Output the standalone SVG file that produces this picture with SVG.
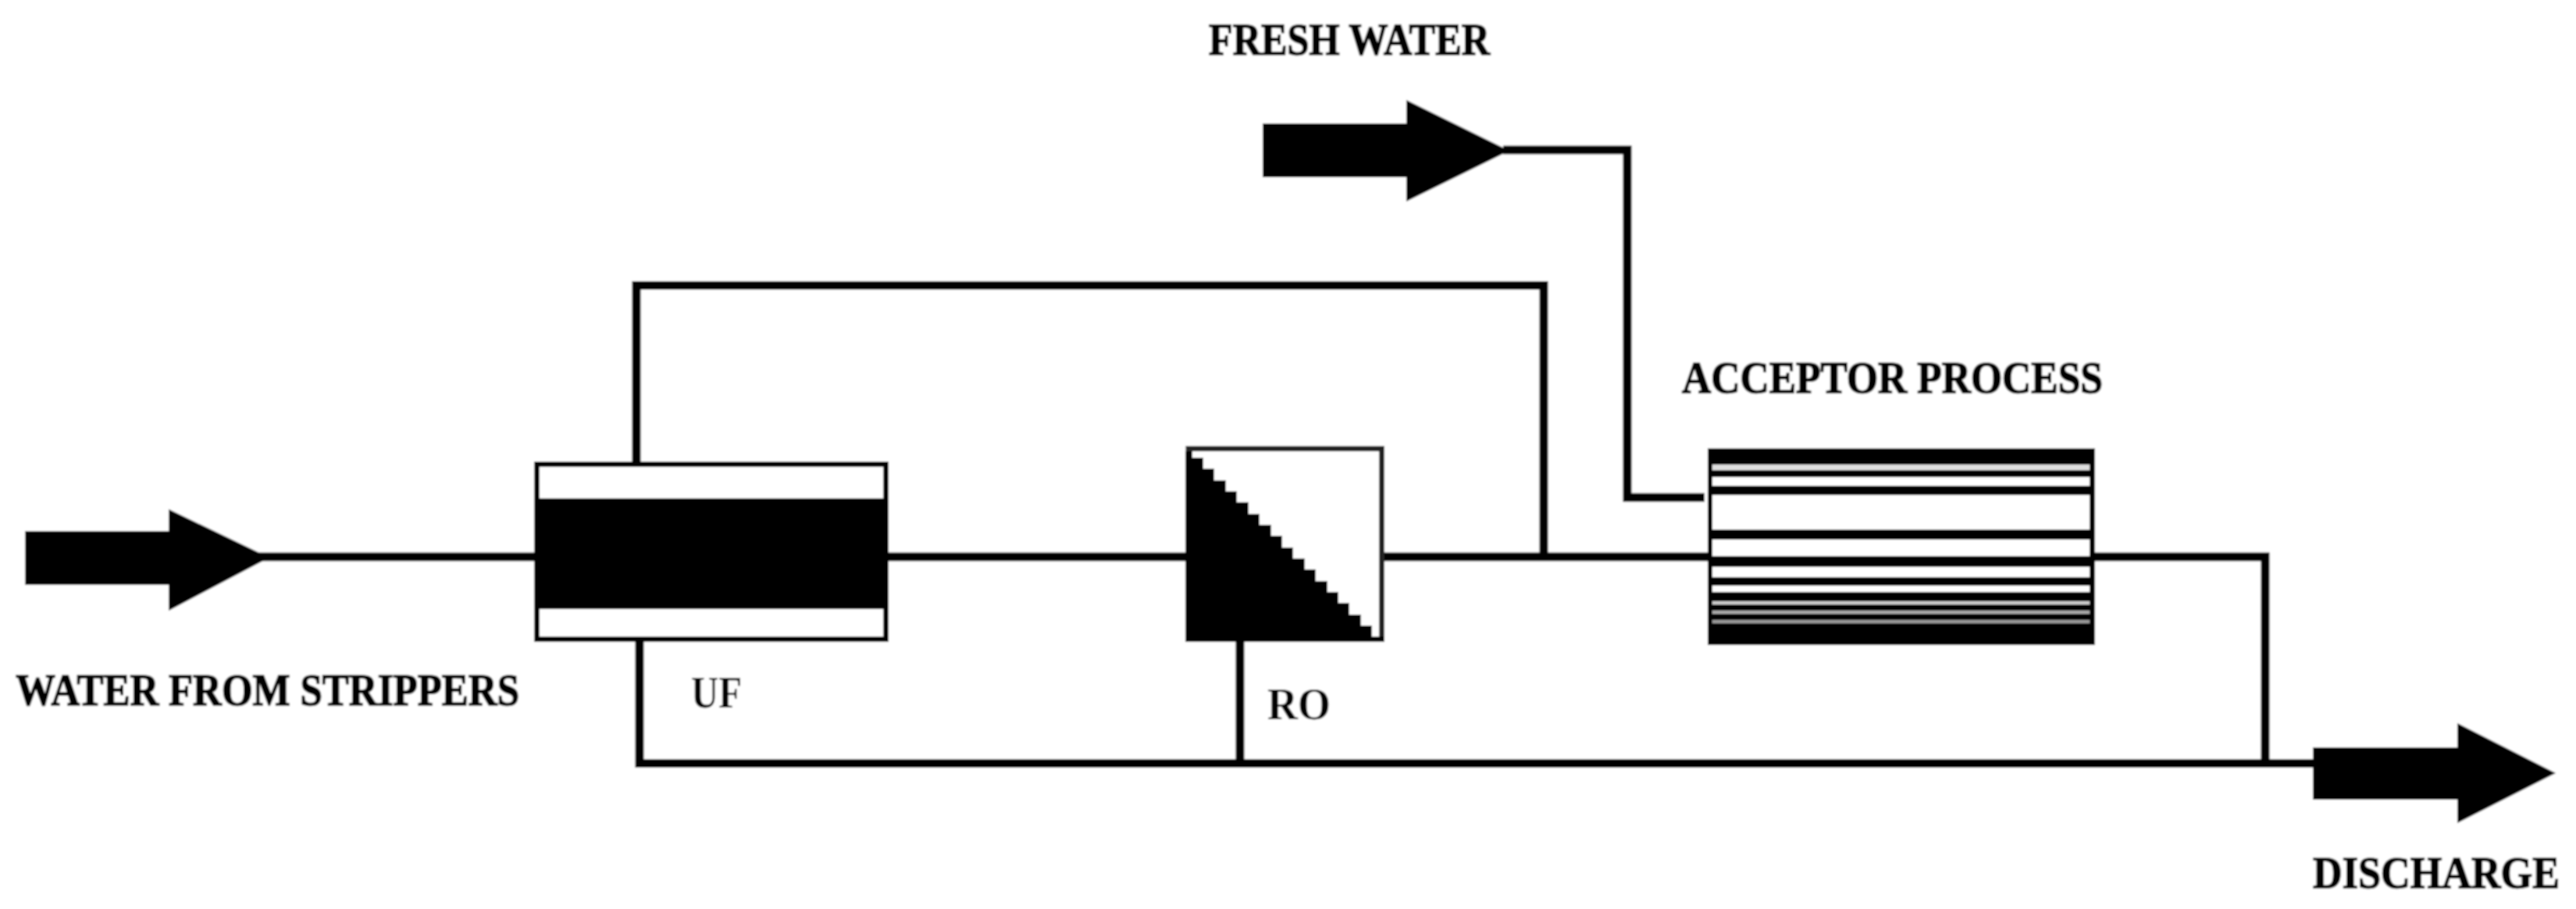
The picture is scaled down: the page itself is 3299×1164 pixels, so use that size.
<svg xmlns="http://www.w3.org/2000/svg" width="3299" height="1164" viewBox="0 0 3299 1164">
<style>
.lbl{font-family:"Liberation Serif","Times New Roman",serif;font-weight:bold;font-size:56px;fill:#000;stroke:#000;stroke-width:1.6px}
.line{fill:none;stroke:#000;stroke-width:11;stroke-linejoin:miter}
.arrow{fill:#000}
</style>
<defs><filter id="soft" x="0" y="0" width="100%" height="100%" filterUnits="objectBoundingBox"><feGaussianBlur stdDeviation="0.9"/></filter></defs>
<rect width="3299" height="1164" fill="#fff"/>
<g filter="url(#soft)">
<rect width="3299" height="1164" fill="#fff"/>
<g id="connectors">
<path class="line" d="M330 713H690"/>
<path class="line" d="M1130 713H1525"/>
<path class="line" d="M1768 713H2190"/>
<path class="line" d="M2680 713H2901V978"/>
<path class="line" d="M815 595V365.500H1977V713"/>
<path class="line" d="M819 818V977.500H2970"/>
<path class="line" d="M1588 818V977"/>
<path class="line" d="M1925 192H2084V637H2183"/>
</g>
<g id="inlet-arrow">
<polygon class="arrow" points="32,680 216,680 216,652 345,714 216,782 216,749 32,749"/>
<text class="lbl" x="20" y="903" textLength="645" lengthAdjust="spacingAndGlyphs">WATER FROM STRIPPERS</text>
</g>
<g id="fresh-water-arrow">
<polygon class="arrow" points="1617,158 1801,158 1801,128 1933,193 1801,258 1801,227 1617,227"/>
<text class="lbl" x="1548" y="70" textLength="360" lengthAdjust="spacingAndGlyphs">FRESH WATER</text>
</g>
<g id="uf">
<rect x="687.500" y="594.500" width="447" height="224" fill="#fff" stroke="#000" stroke-width="7"/>
<rect x="684" y="591" width="454" height="7" fill="#000"/>
<rect x="684" y="638" width="454" height="142" fill="#000"/>
<text class="lbl" x="885" y="906" textLength="65" lengthAdjust="spacingAndGlyphs" style="stroke-width:0">UF</text>
</g>
<g id="ro">
<rect x="1522" y="574.500" width="247.500" height="244" fill="#fff" stroke="#222" stroke-width="7"/>
<polygon fill="#000" points="1518,578 1527,578 1527,586 1541,586 1541,600 1555,600 1555,615 1570,615 1570,629 1584,629 1584,643 1599,643 1599,658 1613,658 1613,672 1628,672 1628,686 1642,686 1642,701 1656,701 1656,715 1671,715 1671,729 1685,729 1685,744 1700,744 1700,758 1714,758 1714,772 1728,772 1728,787 1743,787 1743,801 1757,801 1757,815 1773,815 1773,822 1518,822"/>
<text class="lbl" x="1623" y="921" textLength="81" lengthAdjust="spacingAndGlyphs" style="stroke-width:0">RO</text>
</g>
<g id="acceptor">
<rect x="2187" y="574" width="496" height="252" fill="#000"/>
<rect x="2193" y="595" width="483" height="7" fill="#ddd"/>
<rect x="2193" y="611" width="483" height="11" fill="#fff"/>
<rect x="2193" y="634" width="483" height="44" fill="#fff"/>
<rect x="2193" y="691" width="483" height="21" fill="#fff"/>
<rect x="2193" y="726" width="483" height="13" fill="#fff"/>
<rect x="2193" y="750" width="483" height="8" fill="#fff"/>
<rect x="2193" y="770" width="483" height="4" fill="#ccc"/>
<rect x="2193" y="782" width="483" height="4" fill="#aaa"/>
<rect x="2193" y="794" width="483" height="4" fill="#999"/>
<text class="lbl" x="2154" y="503" textLength="539" lengthAdjust="spacingAndGlyphs">ACCEPTOR PROCESS</text>
</g>
<g id="discharge-arrow">
<polygon class="arrow" points="2962,957 3147,957 3147,926 3273,990 3147,1054 3147,1024 2962,1024"/>
<text class="lbl" x="2962" y="1137" textLength="316" lengthAdjust="spacingAndGlyphs">DISCHARGE</text>
</g>
</g>
</svg>
